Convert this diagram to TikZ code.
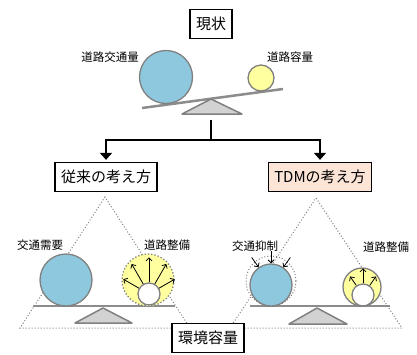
\documentclass[tikz,border=0pt]{standalone}
\usepackage{fontspec}
\newfontfamily\jp{Noto Sans CJK JP}
\usetikzlibrary{shapes, arrows.meta, positioning, calc}

\definecolor{demandblue}{RGB}{142,200,222}
\definecolor{supplyyellow}{RGB}{255,255,160}
\definecolor{tdmpeach}{RGB}{252,228,214}
\definecolor{pivotgray}{RGB}{210,210,210}
\definecolor{edgegray}{RGB}{128,128,128}
\definecolor{beamgray}{RGB}{140,140,140}

\begin{document}
\begin{tikzpicture}[
        x=1pt, y=-1pt,
        box/.style={rectangle, draw, line width=1.3pt, minimum height=29pt, inner xsep=6pt, fill=white, font=\jp\fontsize{15}{17}\selectfont},
        tag/.style={inner sep=0pt, font=\jp\fontsize{11.5}{13}\selectfont},
        ball/.style={circle, draw=edgegray, line width=1.3pt, inner sep=0pt},
        beam/.style={draw=beamgray, line width=2.5pt},
        pivot/.style={draw=edgegray, fill=pivotgray, line width=1.5pt, line join=round},
        guide/.style={draw=edgegray, dotted, line width=1pt},
        flow/.style={line width=2.6pt},
        push/.style={-{Straight Barb[length=3pt, width=6pt]}, line width=0.8pt}
    ]
        \useasboundingbox (0,0) rectangle (417,354);

        \node[box] (status) at (211,24) {現状};
        \draw[beam] (142,108) -- (283,89);
        \draw[pivot] (211,99) -- (242,114) -- (182,114) -- cycle;
        \node[ball, fill=demandblue, minimum size=53pt] (flowball) at (166,77) {};
        \node[ball, fill=supplyyellow, minimum size=26pt] (roadball) at (261,78) {};
        \node[tag] (flowlbl) at (110,57) {道路交通量};
        \node[tag] (roadlbl) at (290,57) {道路容量};

        \coordinate (stem) at (211,120);
        \coordinate (split) at (211,140);
        \node[box] (conv) at (106,177) {従来の考え方};
        \node[box, fill=tdmpeach] (tdm) at (320,177) {TDMの考え方};
        \draw[flow] (stem) -- (split);
        \draw[flow, -{Triangle[width=12pt, length=7pt]}, shorten >=2pt] (split) -| (conv.north);
        \draw[flow, -{Triangle[width=12pt, length=7pt]}, shorten >=2pt] (split) -| (tdm.north);

        \draw[guide] (190,328) -- (105,197) -- (20,328) -- (402,328) -- (316,198) -- (230,328);

        \draw[beam] (33,306) -- (175,306);
        \draw[pivot] (103,308) -- (132,323) -- (75,323) -- cycle;
        \node[ball, fill=demandblue, minimum size=52pt] (demand) at (66,280) {};
        \node[ball, fill=supplyyellow, draw=edgegray, dotted, minimum size=52pt] (supply) at (148,280) {};
        \node[ball, fill=white, minimum size=22pt] (supplycore) at (149,294) {};
        \foreach \a/\l in {150/18pt, 120/23pt, 90/25pt, 60/23pt, 30/18pt}
            \draw[push] (supplycore.\a) -- ++(\a:\l);
        \node[tag] (demandlbl) at (40,245) {交通需要};
        \node[tag] (supplylbl) at (167,245) {道路整備};

        \draw[beam] (250,306) -- (390,306);
        \draw[pivot] (317,308) -- (347,324) -- (289,324) -- cycle;
        \node[circle, draw=edgegray, dotted, line width=1pt, minimum size=50pt, inner sep=0pt] (restrainold) at (271,281) {};
        \node[ball, fill=demandblue, minimum size=42pt] (restrain) at (271,285) {};
        \foreach \a in {125, 90, 55}
            \draw[push] ($(restrain.\a)+(\a:12pt)$) -- (restrain.\a);
        \node[ball, fill=supplyyellow, minimum size=38pt] (ring) at (362,287) {};
        \node[ball, fill=white, minimum size=22pt] (ringcore) at (363,295) {};
        \foreach \a/\l in {125/11pt, 90/15pt, 55/11pt}
            \draw[push] (ringcore.\a) -- ++(\a:\l);
        \node[tag] (restrainlbl) at (255,246) {交通抑制};
        \node[tag] (ringlbl) at (386,247) {道路整備};

        \node[box] (capacity) at (208,338) {環境容量};
    \end{tikzpicture}
\end{document}
